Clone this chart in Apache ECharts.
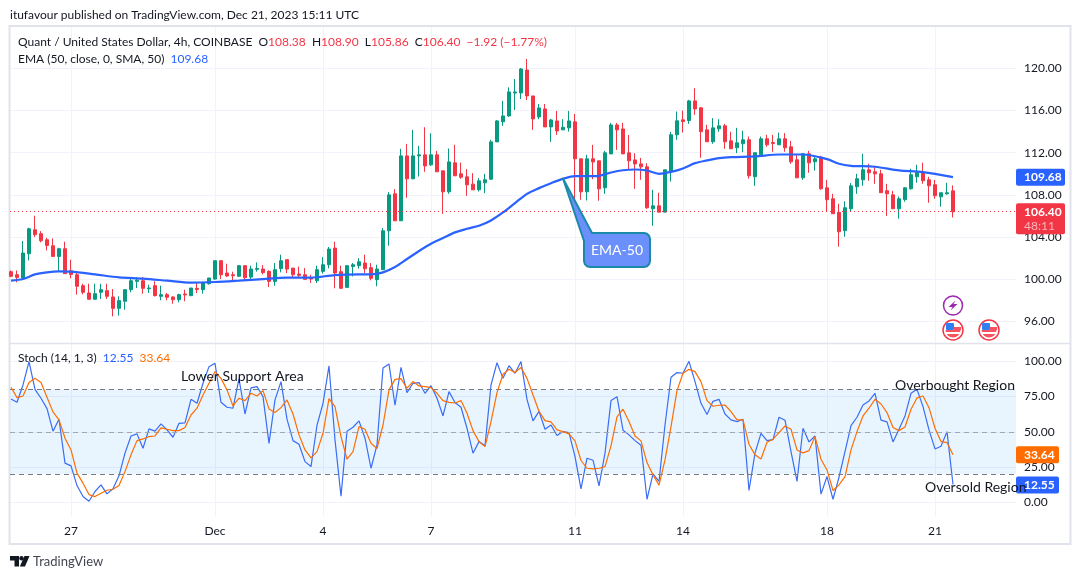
<!DOCTYPE html>
<html>
<head>
<meta charset="utf-8">
<script src="https://cdn.jsdelivr.net/npm/echarts@6/dist/echarts.min.js"></script>
<style>
html, body { margin: 0; padding: 0; background: #fff; }
#chart { width: 1080px; height: 579px; }
</style>
</head>
<body>
<div id="chart"></div>
<script>
// 4h candles, index 0 .. 157
var opens = [
100.71,100.42,100.11,102.41,104.69,104.31,103.74,103.17,102.16,102.89,
100.8,100.42,99.38,98.69,98.09,98.75,98.91,98.31,97.23,97.9,
99,99.79,99.85,99.08,99.38,98.37,98.53,98.31,98.05,98.59,
98.43,99.13,99,99.57,100.01,101.75,100.58,100.42,100.27,101.28,
100.2,100.93,100.96,100.74,99.79,101,101.85,101.05,100.49,100.42,
100.1,99.85,100.74,101.37,102.95,100.71,99.22,101.21,101.28,101.53,
101.09,99.95,100.9,104.59,108.1,105.54,111.7,109.52,111.7,111.8,
110.85,111.8,110.28,108.29,111.04,110.0,109.71,109.02,108.48,109.14,
109.49,113.03,114.93,115.49,117.67,117.67,119.85,117.39,115.4,116.16,
114.45,115.02,114.17,114.36,114.93,111.42,108.29,111.42,111.23,108.67,
111.89,114.64,114.26,111.99,111.32,110.94,110.66,106.68,106.96,106.36,
110.22,113.7,115.12,115.06,116.92,116.26,114.17,113.04,114.27,114.55,
113.13,112.47,112.85,113.23,109.72,111.8,113.32,112.97,112.75,113.32,
112.56,111.33,109.62,111.9,111.14,111.58,108.67,107.63,106.34,104.6,
106.68,108.77,109.43,110.38,110.19,110.0,108.39,108.0,106.68,107.54,
108.58,109.72,110.1,109.43,108.96,107.82,108.1,108.38];
var closes = [
100.27,100.17,102.48,104.78,104.22,103.65,103.2,102.16,102.89,100.52,
100.45,99.32,98.75,98.09,98.62,99,98.37,97.23,97.96,99,
99.85,99.9,99.13,99.16,98.43,98.53,98.28,98.05,98.53,98.5,
99.16,99.03,99.63,100.11,101.75,100.42,100.3,100.33,101.28,100.14,
100.96,101.02,100.62,99.79,100.9,101.75,100.96,100.42,100.36,99.98,
100.01,100.9,101.37,102.86,100.58,99.13,101.28,101.37,101.65,100.99,
100.08,100.96,104.59,108.0,105.54,111.7,109.52,111.7,111.8,110.75,
111.8,110.19,108.29,111.13,109.81,109.68,108.95,108.48,109.33,109.43,
113.03,115.02,115.49,117.77,117.77,119.95,117.39,115.21,116.25,114.45,
115.11,114.07,114.42,115.02,111.42,108.29,111.42,111.13,108.57,111.99,
114.64,114.17,111.89,111.23,110.94,110.66,106.77,106.96,106.36,110.38,
113.7,115.03,114.96,116.92,116.16,114.0,113.04,114.36,114.55,113.04,
112.37,112.94,113.23,109.81,112.0,113.32,112.75,112.88,113.32,112.47,
111.14,109.62,111.9,111.04,111.42,108.58,107.54,106.21,104.5,106.78,
108.86,109.53,110.38,110.1,110.0,108.2,108.1,106.68,107.63,108.67,
109.91,110.1,109.34,108.86,107.92,108.2,108.2,106.4];
var lows = [
100.2,99.7,100.11,101.78,103.99,103.49,102.73,102.16,100.74,100.52,
100.08,98.53,98.56,98.09,98.09,98.12,98.12,96.47,96.54,97.1,
98.75,99.16,98.62,98.69,98.37,98.0,98.0,97.67,97.8,97.9,
98.43,98.68,98.62,99.47,99.95,100.01,100.2,99.9,100.27,99.9,
100.01,100.71,100.46,99.25,99.38,100.65,100.58,100.1,100.1,99.95,
99.63,99.63,100.52,101.02,99.13,99.13,99.22,100.26,101.0,100.58,
99.89,99.32,100.9,103.17,105.54,105.54,107.72,109.52,109.74,110.19,
110.75,110.19,106.2,108.1,109.81,109.52,107.91,108.48,108.32,108.16,
109.43,113.03,114.55,115.4,116.06,117.1,117.0,114.17,115.18,114.45,
113.03,113.69,114.17,114.0,107.28,107.53,107.47,109.49,107.44,108.1,
111.89,112.27,111.89,110.38,108.57,109.43,106.68,105.07,106.36,106.36,
109.27,113.22,113.92,114.74,115.59,111.52,113.04,112.85,113.98,112.37,
112.37,111.96,112.06,109.53,108.86,111.71,112.56,112.09,112.75,112.09,
110.95,109.62,109.43,110.1,110.3,108.49,106.37,106.21,103.08,104.03,
106.4,108.1,108.86,109.34,109.05,108.2,106.0,106.68,105.74,107.35,
108.49,109.15,109.05,107.25,107.63,106.87,108.01,105.86];
var highs = [
100.83,100.83,103.62,104.88,106.02,104.56,103.93,103.87,102.98,103.55,
101.85,100.64,99.57,99.57,99.57,99.57,99.57,99.06,98.37,99.06,
100.2,100.2,100.2,99.47,99.79,99.38,98.69,98.37,98.62,99.0,
99.16,99.63,99.76,100.11,101.75,101.75,101.47,100.71,101.28,101.28,
101.28,101.59,101.34,100.83,101.53,102.32,101.85,101.05,101.2,101.05,
100.42,101.28,102.09,103.05,103.55,101.28,101.28,101.53,102.0,102.32,
101.53,101.37,104.85,108.26,108.54,112.37,112.84,114.17,112.65,114.42,
113.85,112.18,110.28,112.4,112.75,111.07,110.44,110.06,109.59,110,
113.22,115.11,116.92,118.21,119.0,120.04,120.9,117.39,116.63,116.63,
115.21,115.97,115.18,115.97,115.68,111.42,111.8,112.75,111.23,112.18,
114.83,114.83,114.83,113.69,111.95,111.51,111.01,108.48,108.2,110.38,
113.98,115.91,116,117.02,118.12,116.32,114.65,115.28,115.18,114.74,
114.0,114.36,114.08,113.54,112.0,113.54,113.7,113.7,113.92,113.86,
113.13,111.8,111.96,112.18,111.71,111.71,109.43,108.1,107.16,107.38,
109.12,110.0,111.9,110.95,110.63,110.38,109.05,108.39,107.85,108.74,
110.48,110.86,111.05,109.72,109.43,108.2,109.15,108.9];

// EMA read at these bars
var emaBars = [0,2,4,6,8,10,14,18,22,26,30,34,38,42,46,50,54,58,60,62,64,66,68,70,72,74,76,78,80,82,84,86,88,90,92,94,96,98,100,102,104,106,108,110,112,114,116,118,120,124,128,132,136,138,140,144,148,152,157];
var emaValues = [99.86,100.01,100.45,100.65,100.74,100.71,100.45,100.17,100.05,99.86,99.67,99.73,99.86,100.01,100.14,100.14,100.39,100.45,100.45,100.64,101.15,101.91,102.67,103.36,103.9,104.44,104.78,105.07,105.57,106.33,107.22,108.1,108.64,109.11,109.52,109.77,109.77,109.81,110.12,110.34,110.41,110.31,110.0,110.18,110.51,111.01,111.27,111.49,111.58,111.65,111.83,111.83,111.39,110.95,110.76,110.67,110.32,110.16,109.68];

var stochK = [
73.3,70.9,83.2,99.8,80.1,73.8,66.4,50.4,58.9,27.7,
25.8,11.8,4,0.7,7.6,12.3,5.9,9.5,18.7,34.8,
47,48.5,38.3,52,50.4,55.6,51.3,46.1,56,56.3,
73,70.2,84.4,96.2,98.6,70.9,67.4,66.7,87.5,62.6,
81.1,82,74.9,41.8,72.6,85.6,58.9,43.7,41.1,28.8,
25.3,54.6,70.2,96.7,44.2,4.3,50.4,53.2,57.7,45.4,
24.1,40.7,95.3,98.1,68.8,95.7,77.8,84.4,84.9,77.3,
82.7,73.8,61.2,78.5,70.7,67.4,52.5,34.8,43,40,
83.2,99,87.9,96.9,91.5,99.8,73,57.7,64.5,51.8,
54.8,47.3,50.1,49.4,32.4,9.5,31.2,29.8,11.6,34.8,
72.1,74.9,51.1,47.8,43.7,40.4,2.1,20.1,14.7,54.8,
88.7,92,91.5,100,85.6,70.2,62.2,71.6,73,62.6,
58.4,57.2,58.9,8.3,34.8,48.9,43.7,44.4,60.3,58.2,
35.9,14.7,52.5,42.8,47,5.7,18.2,2.1,17.7,35.9,
54.4,60.3,69,71.9,77.3,58.2,57,42.8,51.8,61.2,
77.3,80.1,67.8,51.3,37.8,39.7,50.1,12.55];
var stochD = [
81.6,74.2,75.4,84.9,87.9,84.9,74.5,64.1,58.4,45.4,
37.1,20.6,13.5,5.4,4,6.4,8.5,9.2,11.8,21.7,
33.6,43.7,44.9,46.6,47,52.7,51.8,50.8,50.8,53,
61.9,66.7,76.1,84.4,92.7,87.9,79.7,68.3,73.8,72.1,
77.3,75.4,79.2,66.2,63.6,67.1,72.6,62.6,47.8,37.1,
31.4,35.9,48.9,73.5,67.8,46.6,30.5,35.9,53.7,51.8,
41.8,38.1,54.8,79.7,87.2,87.7,80.9,85.6,82.5,82,
81.3,77.3,72.1,70.9,70.4,72.1,63.1,50.8,43,39.5,
57.2,77.8,90.8,94.3,92,95.7,87.9,76.1,64.5,57.9,
57,51.3,50.1,48.5,43.5,29.6,24.1,23.6,24.1,25.3,
40,60.5,66,57.2,47,43.5,28.1,19.4,12.1,30,
53.7,79.2,91.5,94.3,92.7,85.6,72.1,68.1,68.8,69,
64.3,58.4,58.4,41.1,33.6,30.7,42.6,44.7,49.4,54.1,
51.8,37.1,35,36.6,46.6,30.5,22.9,8.3,12.3,18.2,
37.1,50.1,61.2,66.7,73,69.7,63.6,53,50.8,53.4,
66,74,75.4,67.1,52.5,43,42.3,33.64];

var tickBars = [10,34,52,70,94,112,136,154];
var tickLabels = ['27','Dec','4','7','11','14','18','21'];
var stochLevels = [80,50,20];
var lastEma = 109.68;
var timer = '48:11';

var FONT = 'Lato';
var UP = '#089981', DOWN = '#f23645', BLUE = '#2962ff', ORANGE = '#ff6d00';
var TEXT = '#131722', GRID = '#f0f3fa', FRAME = '#e0e3eb';
var XMIN = -1 / 6, XMAX = XMIN + 1006 / 6;

var candleData = opens.map(function (o, i) { return [i, o, closes[i], lows[i], highs[i]]; });
var lastClose = closes[closes.length - 1];

var hiddenX = function (g) {
  return { type: 'value', gridIndex: g, min: XMIN, max: XMAX, show: false };
};
var priceAxis = function (g, min, max, step, fmt) {
  return {
    type: 'value', gridIndex: g, position: 'right', min: min, max: max, interval: step, scale: true,
    axisLine: { show: false }, axisTick: { show: false },
    splitLine: { lineStyle: { color: GRID, width: 1 } },
    axisLabel: { color: TEXT, fontSize: 12, fontFamily: FONT, align: 'left', margin: 8, formatter: fmt }
  };
};

var chart = echarts.init(document.getElementById('chart'), null, { renderer: 'canvas' });
chart.setOption({
  animation: false,
  textStyle: { fontFamily: FONT },
  grid: [
    { left: 10, width: 1006, top: 26.3, height: 295 },
    { left: 10, width: 1006, top: 361.3, height: 140.9 },
    { left: 10, width: 1006, top: 27, height: 489 }
  ],
  xAxis: [
    hiddenX(0),
    hiddenX(1),
    {
      type: 'value', gridIndex: 2, min: XMIN, max: XMAX,
      axisLine: { show: false },
      axisTick: { show: false, customValues: tickBars },
      splitLine: { show: true, lineStyle: { color: GRID, width: 1 } },
      axisLabel: {
        color: TEXT, fontSize: 12, fontFamily: FONT, margin: 9, customValues: tickBars,
        formatter: function (v) { return tickLabels[tickBars.indexOf(v)]; }
      }
    }
  ],
  yAxis: [
    priceAxis(0, 96, 124, 4, function (v) { return v > 120 ? '' : v.toFixed(2); }),
    priceAxis(1, 0, 100, 25, function (v) { return v.toFixed(2); }),
    { type: 'value', gridIndex: 2, min: 0, max: 1, show: false }
  ],
  series: [
    {
      type: 'candlestick', xAxisIndex: 0, yAxisIndex: 0, data: candleData, barWidth: 4,
      itemStyle: { color: UP, color0: DOWN, borderColor: UP, borderColor0: DOWN, borderWidth: 1 },
      markLine: {
        silent: true, symbol: 'none', label: { show: false },
        data: [{ yAxis: lastClose, lineStyle: { color: DOWN, type: [1, 3], width: 1 } }]
      },
      z: 3
    },
    {
      type: 'line', xAxisIndex: 0, yAxisIndex: 0, showSymbol: false, smooth: 0.3,
      data: emaBars.map(function (b, i) { return [b, emaValues[i]]; }),
      lineStyle: { color: '#2962ff', width: 2.2 }, z: 4
    },
    {
      type: 'line', xAxisIndex: 1, yAxisIndex: 1, showSymbol: false,
      data: stochK.map(function (v, i) { return [i, v]; }),
      lineStyle: { color: '#3a6df5', width: 1.2 }, z: 4,
      markArea: {
        silent: true, itemStyle: { color: 'rgba(33,150,243,0.1)' },
        data: [[{ yAxis: stochLevels[2] }, { yAxis: stochLevels[0] }]]
      },
      markLine: {
        silent: true, symbol: 'none', label: { show: false },
        data: stochLevels.map(function (l) {
          return { yAxis: l, lineStyle: { color: l === 50 ? '#a3a6af' : '#787b86', type: [5, 4], width: 1 } };
        })
      }
    },
    {
      type: 'line', xAxisIndex: 1, yAxisIndex: 1, showSymbol: false,
      data: stochD.map(function (v, i) { return [i, v]; }),
      lineStyle: { color: ORANGE, width: 1.2 }, z: 5
    }
  ]
});

// text at an absolute spot
function label(str, x, y, size, color, extra) {
  var st = { text: str, x: x, y: y, fontFamily: FONT, fontSize: size, fill: color, verticalAlign: 'middle', align: 'left' };
  for (var k in (extra || {})) st[k] = extra[k];
  return { type: 'text', z: 100, style: st };
}
function tag(x, w, yTop, h, color) {
  return { type: 'rect', z: 90, shape: { x: x, y: yTop, width: w, height: h, r: 2 }, style: { fill: color } };
}
function flag(cx, cy) {
  return {
    type: 'group', z: 95, x: cx, y: cy,
    children: [
      { type: 'circle', shape: { r: 10 }, style: { fill: '#fff', stroke: DOWN, lineWidth: 1.5 } },
      { type: 'sector', shape: { r: 7.5, startAngle: 0, endAngle: Math.PI }, style: { fill: '#f7525f' } },
      { type: 'rect', shape: { x: -7, y: 2, width: 14, height: 2 }, style: { fill: '#fff' } },
      { type: 'rect', shape: { x: 1, y: -3, width: 7, height: 3 }, style: { fill: '#f7525f' } },
      { type: 'rect', shape: { x: -7, y: -7, width: 8, height: 7, r: 1 }, style: { fill: '#2f80f0' } }
    ]
  };
}

var py = function (v) { return chart.convertToPixel({ yAxisIndex: 0 }, v); };
var sy = function (v) { return chart.convertToPixel({ yAxisIndex: 1 }, v); };
var lastK = stochK[stochK.length - 1], lastD = stochD[stochD.length - 1];
var closeY = py(lastClose), emaY = py(lastEma), kY = sy(lastK), dY = sy(lastD);

chart.setOption({
  graphic: [
    // frame
    { type: 'rect', z: 1, shape: { x: 9.5, y: 26, width: 1061, height: 518 }, style: { fill: 'none', stroke: FRAME, lineWidth: 2 } },
    { type: 'line', z: 1, shape: { x1: 10, y1: 343.5, x2: 1070, y2: 343.5 }, style: { stroke: FRAME, lineWidth: 1.5 } },

    label('itufavour published on TradingView.com, Dec 21, 2023 15:11 UTC', 10, 15, 12, TEXT),
    {
      type: 'text', z: 100,
      style: {
        x: 18, y: 42, verticalAlign: 'middle', fontFamily: FONT, fontSize: 12, fill: TEXT,
        text: 'Quant / United States Dollar, 4h, COINBASE  O{r|108.38}  H{r|108.90}  L{r|105.86}  C{r|106.40}  {r|\u22121.92 (\u22121.77%)}',
        rich: { r: { fill: DOWN, fontFamily: FONT, fontSize: 12 } }
      }
    },
    {
      type: 'text', z: 100,
      style: {
        x: 18, y: 59, verticalAlign: 'middle', fontFamily: FONT, fontSize: 12, fill: TEXT,
        text: 'EMA (50, close, 0, SMA, 50)  {b|109.68}',
        rich: { b: { fill: BLUE, fontFamily: FONT, fontSize: 12 } }
      }
    },
    {
      type: 'text', z: 100,
      style: {
        x: 18, y: 358, verticalAlign: 'middle', fontFamily: FONT, fontSize: 12, fill: TEXT,
        text: 'Stoch (14, 1, 3)  {b|12.55}  {o|33.64}',
        rich: { b: { fill: BLUE, fontFamily: FONT, fontSize: 12 }, o: { fill: ORANGE, fontFamily: FONT, fontSize: 12 } }
      }
    },

    // drawn notes
    label('Lower Support Area', 181, 376, 14, TEXT),
    label('Overbought Region', 895, 385, 14, TEXT),
    label('Oversold Region', 925, 487, 14, TEXT),
    {
      type: 'polygon', z: 96,
      shape: { points: [[563, 178.5], [592, 233], [644, 233], [647, 233.8], [649.2, 236], [650, 239], [650, 261], [649.2, 264], [647, 266.2], [644, 267], [590, 267], [587, 266.2], [584.8, 264], [584, 261], [584, 241]] },
      style: { fill: '#6b90fb', stroke: '#1a8aa8', lineWidth: 2, lineJoin: 'round' }
    },
    label('EMA-50', 617, 250, 14, '#fff', { align: 'center' }),

    // price scale tags
    tag(1016, 49, emaY - 8.5, 17, BLUE),
    label(lastEma.toFixed(2), 1024, emaY, 12, '#fff', { fontWeight: 'bold' }),
    tag(1016, 49, closeY - 8.5, 31, DOWN),
    label(lastClose.toFixed(2), 1024, closeY, 12, '#fff', { fontWeight: 'bold' }),
    label(timer, 1024, closeY + 14.5, 12, '#f8b4ba'),
    tag(1016, 43, dY - 8.5, 17, ORANGE),
    label(lastD.toFixed(2), 1024, dY, 12, '#fff', { fontWeight: 'bold' }),
    tag(1016, 43, kY - 8.5 + 0.5, 17, BLUE),
    label(lastK.toFixed(2), 1024, kY + 0.5, 12, '#fff', { fontWeight: 'bold' }),

    // event icons
    {
      type: 'group', z: 95, x: 953, y: 305.5,
      children: [
        { type: 'circle', shape: { r: 9.5 }, style: { fill: '#fff', stroke: '#9c27b0', lineWidth: 1.5 } },
        { type: 'polygon', shape: { points: [[2.5, -5], [-4.5, 1.5], [-0.5, 1.5], [-2.5, 5], [4.5, -1.5], [0.5, -1.5]] }, style: { fill: '#9c27b0' } }
      ]
    },
    flag(953, 330),
    flag(989, 330),

    // footer logo
    { type: 'polygon', z: 100, shape: { points: [[10, 556], [19, 556], [19, 566.5], [14.5, 566.5], [14.5, 560.5], [10, 560.5]] }, style: { fill: '#131722' } },
    { type: 'circle', z: 100, shape: { cx: 21.5, cy: 558.3, r: 2.2 }, style: { fill: '#131722' } },
    { type: 'polygon', z: 100, shape: { points: [[24.5, 556], [29.5, 556], [25, 566.5], [19.8, 566.5]] }, style: { fill: '#131722' } },
    label('TradingView', 33, 561.5, 13, '#434651')
  ]
});
</script>
</body>
</html>
